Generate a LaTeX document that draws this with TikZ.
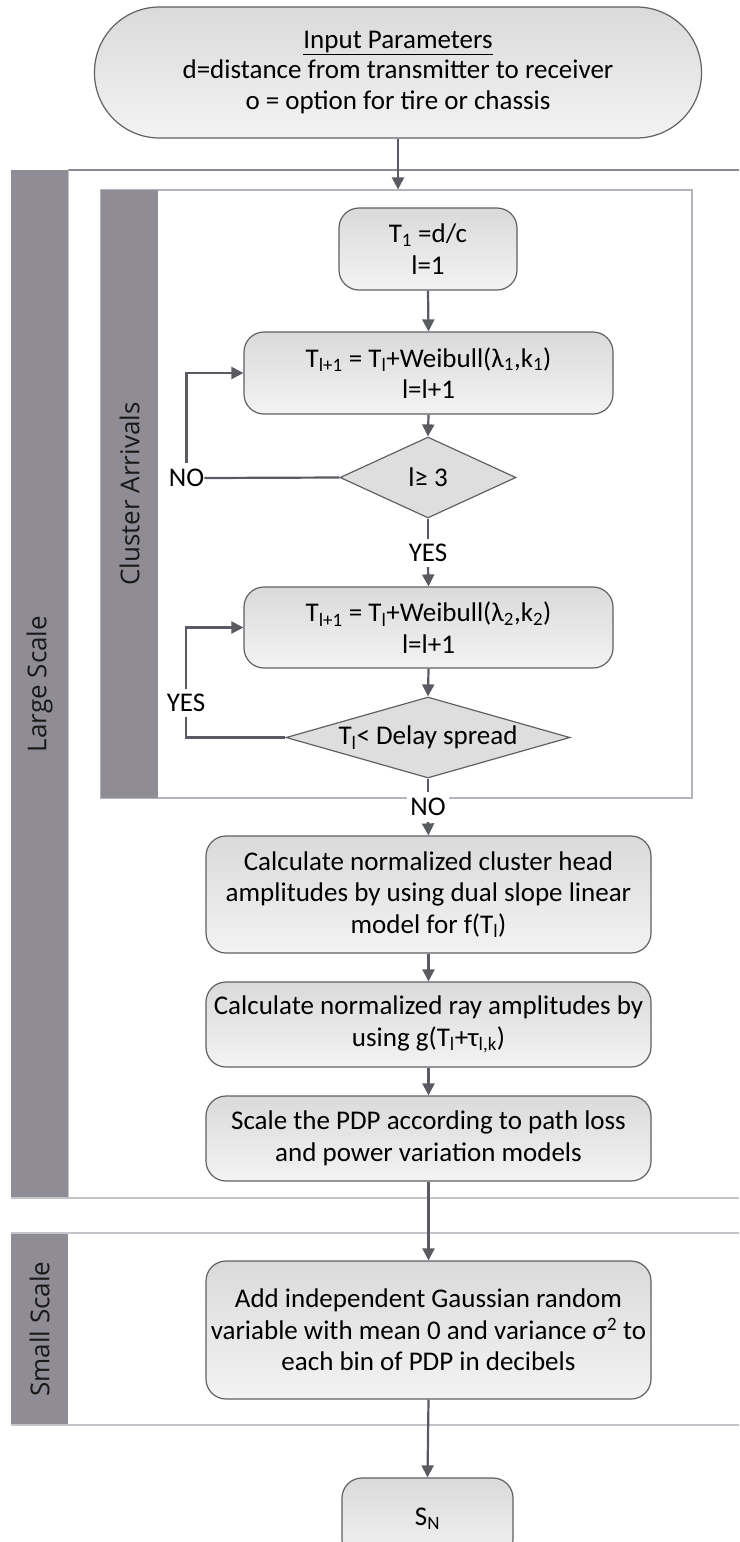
\documentclass[tikz,border=0pt]{standalone}
\usepackage{fontspec}
\setmainfont{Carlito}
\newfontfamily\lanefont{Open Sans}
\usetikzlibrary{shapes.geometric,arrows.meta}
\definecolor{bar}{HTML}{8F8C96}
\definecolor{conncol}{HTML}{5A5A62}
\definecolor{bordercol}{HTML}{606066}
\definecolor{boxtop}{HTML}{DADADA}
\definecolor{boxbot}{HTML}{F3F3F3}
\definecolor{diafill}{HTML}{DEDEDE}
\definecolor{lanedark}{HTML}{8A8A94}
\definecolor{lanelight}{HTML}{C4C4CA}
\definecolor{clusterline}{HTML}{B4B4BC}
\tikzset{
  box/.style={draw=bordercol, line width=1.2pt, rounded corners=20pt, top color=boxtop, bottom color=boxbot,
    align=center, inner sep=0pt, font={\fontsize{27}{31.5}\selectfont}},
  dia/.style={diamond, draw=bordercol, line width=1.2pt, fill=diafill, inner sep=0pt,
    font={\fontsize{27}{31.5}\selectfont}},
  conn/.style={draw=conncol, line width=2.2pt},
  arr/.style={conn, -{Triangle[width=12pt,length=12pt]}},
  lbl/.style={font={\fontsize{27}{31}\selectfont}, inner sep=0pt},
  lanelbl/.style={font={\lanefont\fontsize{26}{30}\selectfont}, rotate=90, text=black!90},
}
\begin{document}
\begin{tikzpicture}[x=1pt,y=-1pt]
\useasboundingbox (0,0) rectangle (739,1542);
% lanes
\fill[bar] (11,170) rectangle (68,1198);
\draw[lanedark, line width=1.3pt] (68,170) -- (739,170);
\draw[lanelight, line width=1.5pt] (11,1198) -- (739,1198);
\draw[lanelight, line width=1pt] (68,170) -- (68,1198);
\node[lanelbl] (lsl) at (39.5,684) {Large Scale};
\fill[bar] (11,1233) rectangle (68,1425);
\draw[lanelight, line width=1.5pt] (11,1233) -- (739,1233);
\draw[lanelight, line width=1.5pt] (11,1425) -- (739,1425);
\node[lanelbl] (ssl) at (39.5,1329) {Small Scale};
% cluster box
\node[draw=clusterline, line width=1.2pt, minimum width=591pt, minimum height=608pt, inner sep=0pt] (cluster) at (396.5,494) {};
\fill[bar] (101,190) rectangle (158,798);
\node[lanelbl] (cal) at (129.5,494) {Cluster Arrivals};
% nodes
\node[box, rounded corners=65pt, minimum width=607pt, minimum height=131pt, font={\fontsize{27}{30.5}\selectfont}] (term) at (398,72.5)
  {\underline{Input Parameters}\\d=distance from transmitter to receiver\\o = option for tire or chassis};
\node[box, minimum width=178pt, minimum height=82pt] (t1) at (428,249) {T\textsubscript{1} =d/c\\l=1};
\node[box, minimum width=369pt, minimum height=82pt] (w1) at (428.5,373) {T\textsubscript{l+1} = T\textsubscript{l}+Weibull(λ\textsubscript{1},k\textsubscript{1})\\l=l+1};
\node[dia, minimum width=176pt, minimum height=81pt, aspect=2.17] (d1) at (428,477.5) {l≥ 3};
\node[box, minimum width=369pt, minimum height=81pt] (w2) at (428.5,627.5) {T\textsubscript{l+1} = T\textsubscript{l}+Weibull(λ\textsubscript{2},k\textsubscript{2})\\l=l+1};
\node[dia, minimum width=284pt, minimum height=81pt, aspect=3.5] (d2) at (428,737.5) {T\textsubscript{l}< Delay spread};
\node[box, minimum width=445pt, minimum height=117pt] (c1) at (428.5,894.5) {Calculate normalized cluster head\\amplitudes by using dual slope linear\\model for f(T\textsubscript{l})};
\node[box, minimum width=445pt, minimum height=85pt] (c2) at (428.5,1024.5) {Calculate normalized ray amplitudes by\\using g(T\textsubscript{l}+τ\textsubscript{l,k})};
\node[box, minimum width=445pt, minimum height=85pt] (c3) at (428.5,1138.5) {Scale the PDP according to path loss\\and power variation models};
\node[box, minimum width=445pt, minimum height=138pt] (add) at (428.5,1330) {Add independent Gaussian random\\variable with mean 0 and variance σ\textsuperscript{2} to\\each bin of PDP in decibels};
\node[box, minimum width=171pt, minimum height=82pt] (sn) at (427.5,1519) {S\textsubscript{N}};
% labels
\node[lbl, inner ysep=6pt] (no1) at (186.5,478) {NO};
\node[lbl, inner ysep=5pt] (yes1) at (428,553) {YES};
\node[lbl, inner ysep=5pt] (yes2) at (186,703) {YES};
\node[lbl, fill=white, inner ysep=6pt, inner xsep=3pt] (no2) at (428,807) {NO};
% connectors
\coordinate (clTop) at (term.south |- cluster.north);
\draw[arr] (term.south) -- (clTop);
\draw[arr] (t1.south) -- (w1.north);
\draw[arr] (w1.south) -- (d1.north);
\draw[conn] (d1.west) -- (no1.east);
\draw[arr] (no1.north) |- (w1.west);
\draw[conn] (d1.south) -- (yes1.north);
\draw[arr] (yes1.south) -- (w2.north);
\draw[arr] (w2.south) -- (d2.north);
\draw[conn] (d2.west) -| (yes2.south);
\draw[arr] (yes2.north) |- (w2.west);
\draw[conn] (d2.south) -- (no2.north);
\draw[arr] (no2.south) -- (c1.north);
\draw[arr] (c1.south) -- (c2.north);
\draw[arr] (c2.south) -- (c3.north);
\draw[arr] (c3.south) -- (add.north);
\draw[arr] (add.south) -- (sn.north);
\end{tikzpicture}
\end{document}
